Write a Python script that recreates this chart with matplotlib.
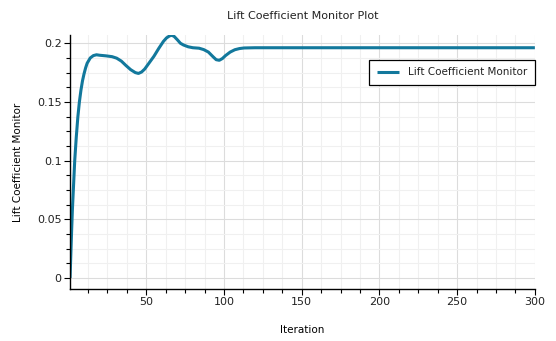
import matplotlib

matplotlib.use("Agg")
import matplotlib.pyplot as plt
from matplotlib.ticker import FormatStrFormatter, MultipleLocator

# ---------------------------------------------------------------------------
# Data
# ---------------------------------------------------------------------------
iterations = [
    1, 1.5, 2, 2.5, 3, 4, 5, 6, 7, 8, 9, 10, 11, 12, 14, 16, 18, 20, 24, 28,
    31, 34, 37, 40, 43, 45, 47, 49, 52, 55, 58, 61, 63, 65, 66.5, 68, 70, 72,
    74, 77, 80, 84, 87, 90, 93, 95, 97, 99, 101, 104, 107, 110, 113, 120, 300,
]
lift_coeff = [
    0.0, 0.02, 0.04, 0.058, 0.072, 0.1, 0.12, 0.137, 0.15, 0.16, 0.168, 0.174,
    0.179, 0.183, 0.1875, 0.1895, 0.1902, 0.1898, 0.1893, 0.1886, 0.1873,
    0.1848, 0.181, 0.1775, 0.175, 0.1743, 0.1755, 0.178, 0.1835, 0.189,
    0.1955, 0.2015, 0.2045, 0.2063, 0.2068, 0.2058, 0.203, 0.2, 0.1985,
    0.197, 0.1962, 0.1958, 0.1946, 0.1925, 0.1885, 0.186, 0.1855, 0.187,
    0.1895, 0.1925, 0.1945, 0.1955, 0.196, 0.1962, 0.1962,
]

TITLE = "Lift Coefficient Monitor Plot"
SERIES_LABEL = "Lift Coefficient Monitor"
X_LABEL = "Iteration"
Y_LABEL = "Lift Coefficient Monitor"

LINE_COLOR = "#12789c"
TEXT_COLOR = "#222222"

plt.rcParams.update(
    {
        "font.family": "DejaVu Sans",
        "font.size": 7.5,
        "text.color": TEXT_COLOR,
        "xtick.color": TEXT_COLOR,
        "ytick.color": TEXT_COLOR,
    }
)

fig = plt.figure(figsize=(5.56, 3.41), dpi=100)
ax = fig.add_axes([0.126, 0.1525, 0.836, 0.744])

ax.plot(iterations, lift_coeff, color=LINE_COLOR, linewidth=2.2,
        label=SERIES_LABEL, solid_capstyle="butt")

ax.set_xlim(1, 300)
ax.set_ylim(-0.0094, 0.2068)

ax.xaxis.set_major_locator(MultipleLocator(50))
ax.xaxis.set_minor_locator(MultipleLocator(12.5))
ax.yaxis.set_major_locator(MultipleLocator(0.05))
ax.yaxis.set_minor_locator(MultipleLocator(0.0125))
ax.yaxis.set_major_formatter(FormatStrFormatter("%g"))

ax.grid(which="major", color="#dcdcdc", linewidth=0.8)
ax.grid(which="minor", color="#f0f0f0", linewidth=0.8)
ax.set_axisbelow(True)

for side in ("top", "right"):
    ax.spines[side].set_visible(False)
for side in ("left", "bottom"):
    ax.spines[side].set_color("black")
    ax.spines[side].set_linewidth(1.0)

ax.tick_params(which="major", length=4, width=0.8, color="black", pad=2,
               labelsize=8)
ax.tick_params(which="minor", length=3, width=0.8, color="black")

ax.set_title(TITLE, fontsize=8, pad=12)
ax.set_xlabel(X_LABEL, fontsize=7.5, labelpad=13)
ax.set_ylabel(Y_LABEL, fontsize=7.5, labelpad=10)

leg = ax.legend(
    loc="upper right",
    bbox_to_anchor=(1.0, 0.904),
    borderaxespad=0,
    fancybox=False,
    framealpha=1,
    edgecolor="black",
    fontsize=7.5,
    handlelength=2.2,
    borderpad=0.75,
)
leg.get_frame().set_linewidth(0.9)

fig.savefig("out.png", dpi=100)
